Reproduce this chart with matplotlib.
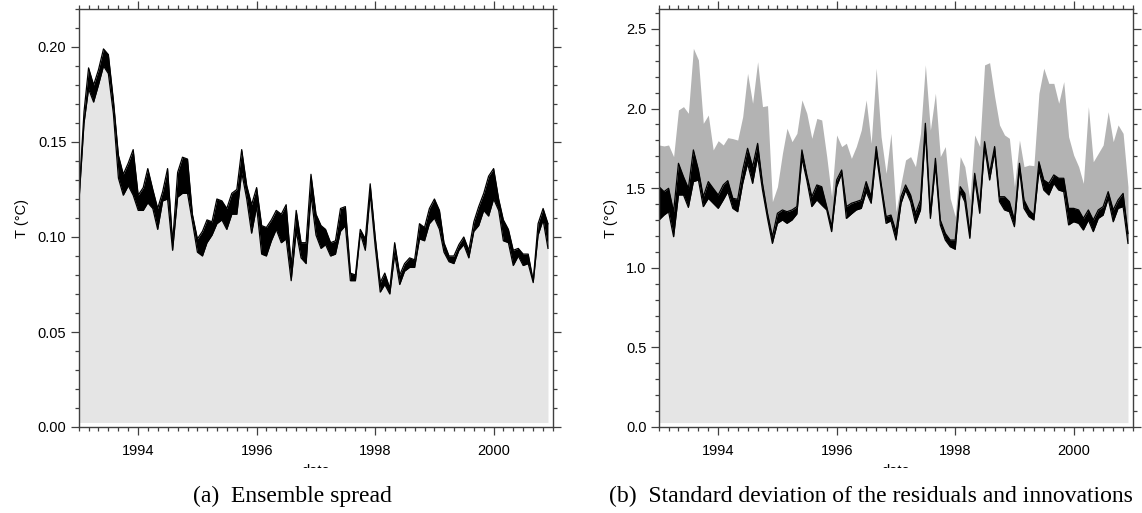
import numpy as np
import pandas as pd
import matplotlib
matplotlib.use("Agg")
import matplotlib.pyplot as plt
import matplotlib.dates as mdates
from matplotlib.ticker import MultipleLocator
from matplotlib.patches import Rectangle

# monthly values, Jan 1993 .. Dec 2000
dates = pd.date_range("1993-01-01", periods=96, freq="MS")

# (a) ensemble spread: upper / lower edge of the black band
spread_hi = [0.122, 0.166, 0.189, 0.180, 0.188, 0.199, 0.196, 0.172, 0.143, 0.133,
             0.139, 0.146, 0.122, 0.126, 0.136, 0.125, 0.115, 0.124, 0.136, 0.097,
             0.134, 0.142, 0.141, 0.112, 0.099, 0.103, 0.109, 0.108, 0.120, 0.119,
             0.115, 0.123, 0.125, 0.146, 0.127, 0.117, 0.126, 0.106, 0.105, 0.109,
             0.114, 0.112, 0.117, 0.085, 0.114, 0.097, 0.097, 0.133, 0.112, 0.106,
             0.104, 0.097, 0.098, 0.115, 0.116, 0.081, 0.080, 0.104, 0.099, 0.128,
             0.100, 0.076, 0.081, 0.073, 0.097, 0.080, 0.086, 0.089, 0.088, 0.107,
             0.105, 0.115, 0.120, 0.114, 0.097, 0.090, 0.090, 0.096, 0.100, 0.093,
             0.108, 0.116, 0.123, 0.132, 0.136, 0.120, 0.109, 0.104, 0.093, 0.094,
             0.091, 0.091, 0.077, 0.107, 0.115, 0.107]
spread_lo = [0.119, 0.160, 0.178, 0.171, 0.180, 0.190, 0.186, 0.165, 0.131, 0.122,
             0.127, 0.122, 0.114, 0.114, 0.118, 0.115, 0.104, 0.119, 0.120, 0.093,
             0.121, 0.123, 0.123, 0.108, 0.092, 0.090, 0.097, 0.101, 0.107, 0.109,
             0.104, 0.112, 0.112, 0.134, 0.120, 0.102, 0.116, 0.091, 0.090, 0.098,
             0.104, 0.097, 0.099, 0.077, 0.103, 0.089, 0.086, 0.122, 0.101, 0.094,
             0.096, 0.090, 0.091, 0.103, 0.106, 0.077, 0.077, 0.102, 0.093, 0.123,
             0.095, 0.071, 0.075, 0.070, 0.091, 0.075, 0.082, 0.084, 0.084, 0.099,
             0.098, 0.107, 0.110, 0.104, 0.092, 0.087, 0.086, 0.093, 0.096, 0.089,
             0.103, 0.106, 0.114, 0.111, 0.120, 0.114, 0.098, 0.097, 0.085, 0.090,
             0.085, 0.086, 0.076, 0.101, 0.109, 0.094]

# (b) std of innovations (grey top), residuals band (black)
innov = [1.771, 1.765, 1.771, 1.698, 1.991, 2.012, 1.970, 2.378, 2.305, 1.907,
         1.959, 1.740, 1.798, 1.771, 1.817, 1.811, 1.802, 1.949, 2.221, 2.033,
         2.294, 2.012, 2.018, 1.415, 1.509, 1.719, 1.876, 1.792, 1.844, 2.054,
         1.970, 1.813, 1.938, 1.928, 1.698, 1.446, 1.834, 1.761, 1.782, 1.687,
         1.761, 1.865, 2.054, 1.782, 2.253, 1.823, 1.593, 1.844, 1.352, 1.530,
         1.677, 1.698, 1.635, 1.844, 2.274, 1.865, 2.096, 1.698, 1.761, 1.436,
         1.321, 1.698, 1.635, 1.426, 1.834, 1.761, 2.274, 2.288, 2.075, 1.897,
         1.834, 1.813, 1.509, 1.802, 1.635, 1.645, 1.641, 2.096, 2.253, 2.158,
         2.158, 2.033, 2.169, 1.823, 1.708, 1.635, 1.530, 2.012, 1.666, 1.719,
         1.771, 1.980, 1.792, 1.897, 1.844, 1.509]
resid_hi = [1.509, 1.478, 1.499, 1.352, 1.656, 1.572, 1.499, 1.740, 1.614, 1.446,
            1.541, 1.499, 1.457, 1.520, 1.547, 1.436, 1.430, 1.614, 1.750, 1.635,
            1.781, 1.530, 1.342, 1.195, 1.342, 1.363, 1.352, 1.363, 1.384, 1.740,
            1.583, 1.446, 1.520, 1.509, 1.384, 1.258, 1.551, 1.614, 1.384, 1.405,
            1.415, 1.426, 1.541, 1.446, 1.761, 1.530, 1.321, 1.331, 1.227, 1.446,
            1.520, 1.457, 1.342, 1.426, 1.907, 1.342, 1.687, 1.300, 1.216, 1.174,
            1.174, 1.509, 1.467, 1.216, 1.593, 1.384, 1.792, 1.593, 1.761, 1.446,
            1.446, 1.415, 1.300, 1.656, 1.426, 1.363, 1.331, 1.666, 1.551, 1.530,
            1.583, 1.562, 1.562, 1.373, 1.373, 1.363, 1.310, 1.363, 1.300, 1.363,
            1.384, 1.478, 1.363, 1.426, 1.467, 1.216]
resid_lo = [1.300, 1.331, 1.352, 1.195, 1.457, 1.457, 1.379, 1.541, 1.551, 1.384,
            1.436, 1.405, 1.373, 1.426, 1.478, 1.373, 1.352, 1.530, 1.656, 1.530,
            1.698, 1.488, 1.310, 1.153, 1.279, 1.300, 1.279, 1.300, 1.338, 1.687,
            1.551, 1.384, 1.426, 1.394, 1.363, 1.227, 1.509, 1.593, 1.310, 1.338,
            1.363, 1.373, 1.478, 1.405, 1.719, 1.499, 1.279, 1.295, 1.174, 1.405,
            1.488, 1.415, 1.279, 1.363, 1.855, 1.310, 1.645, 1.269, 1.174, 1.132,
            1.116, 1.478, 1.415, 1.185, 1.562, 1.342, 1.761, 1.551, 1.729, 1.415,
            1.363, 1.352, 1.258, 1.624, 1.373, 1.321, 1.300, 1.614, 1.488, 1.457,
            1.530, 1.488, 1.478, 1.269, 1.289, 1.279, 1.237, 1.300, 1.227, 1.310,
            1.331, 1.436, 1.289, 1.373, 1.384, 1.153]

LIGHT = "#e5e5e5"
MID = "#b3b3b3"
FRAME = "#404040"

plt.rcParams["font.family"] = ["Liberation Sans", "DejaVu Sans"]

fig = plt.figure(figsize=(11.42, 5.13), dpi=100)
ax_a = fig.add_axes([79 / 1142, 86 / 513, 474 / 1142, 418 / 513])
ax_b = fig.add_axes([659 / 1142, 86 / 513, 474 / 1142, 418 / 513])


def style(ax, ytop, ymaj, ymin):
    ax.set_xlim(pd.Timestamp("1993-01-01"), pd.Timestamp("2001-01-01"))
    ax.set_ylim(0, ytop)
    ax.xaxis.set_major_locator(mdates.YearLocator(2))
    ax.xaxis.set_minor_locator(mdates.MonthLocator(bymonth=[1, 3, 5, 7, 9, 11]))
    ax.xaxis.set_major_formatter(mdates.DateFormatter("%Y"))
    ax.yaxis.set_major_locator(MultipleLocator(ymaj))
    ax.yaxis.set_minor_locator(MultipleLocator(ymin))
    ax.tick_params(which="both", direction="out", top=True, right=True,
                   color=FRAME, width=0.9, labelsize=10.5)
    ax.tick_params(which="major", length=6)
    ax.tick_params(which="minor", length=3)
    ax.tick_params(axis="x", pad=6.5)
    ax.tick_params(axis="y", pad=3)
    for s in ax.spines.values():
        s.set_color(FRAME)
        s.set_linewidth(1.0)
    ax.set_ylabel("T (°C)", fontsize=10.5, labelpad=6)
    ax.set_xlabel("date", fontsize=10.5, labelpad=4)


# (a)
base_a = 0.0024
ax_a.fill_between(dates, base_a, spread_lo, color=LIGHT, lw=0)
ax_a.fill_between(dates, spread_lo, spread_hi, color="black", lw=0)
ax_a.plot(dates, spread_lo, color="black", lw=0.9)
ax_a.plot(dates, spread_hi, color="black", lw=0.9)
style(ax_a, 0.22, 0.05, 0.01)
ax_a.yaxis.set_major_formatter(matplotlib.ticker.FormatStrFormatter("%.2f"))

# (b)
base_b = 0.028
ax_b.fill_between(dates, base_b, resid_lo, color=LIGHT, lw=0)
ax_b.fill_between(dates, resid_hi, innov, color=MID, lw=0)
ax_b.fill_between(dates, resid_lo, resid_hi, color="black", lw=0)
ax_b.plot(dates, resid_lo, color="black", lw=0.9)
ax_b.plot(dates, resid_hi, color="black", lw=0.9)
style(ax_b, 2.625, 0.5, 0.1)
ax_b.yaxis.set_major_formatter(matplotlib.ticker.FormatStrFormatter("%.1f"))

# the x label is cut off in the original
fig.patches.append(Rectangle((0, 0), 1, 45 / 513, transform=fig.transFigure,
                             facecolor="white", edgecolor="none", zorder=5))

cap = dict(fontsize=17, family="Liberation Serif", ha="center", va="center", zorder=6)
fig.text(292 / 1142, 17 / 513, "(a)  Ensemble spread", **cap)
fig.text(870.5 / 1142, 17 / 513,
         "(b)  Standard deviation of the residuals and innovations", **cap)

fig.savefig("out.png", dpi=100)
